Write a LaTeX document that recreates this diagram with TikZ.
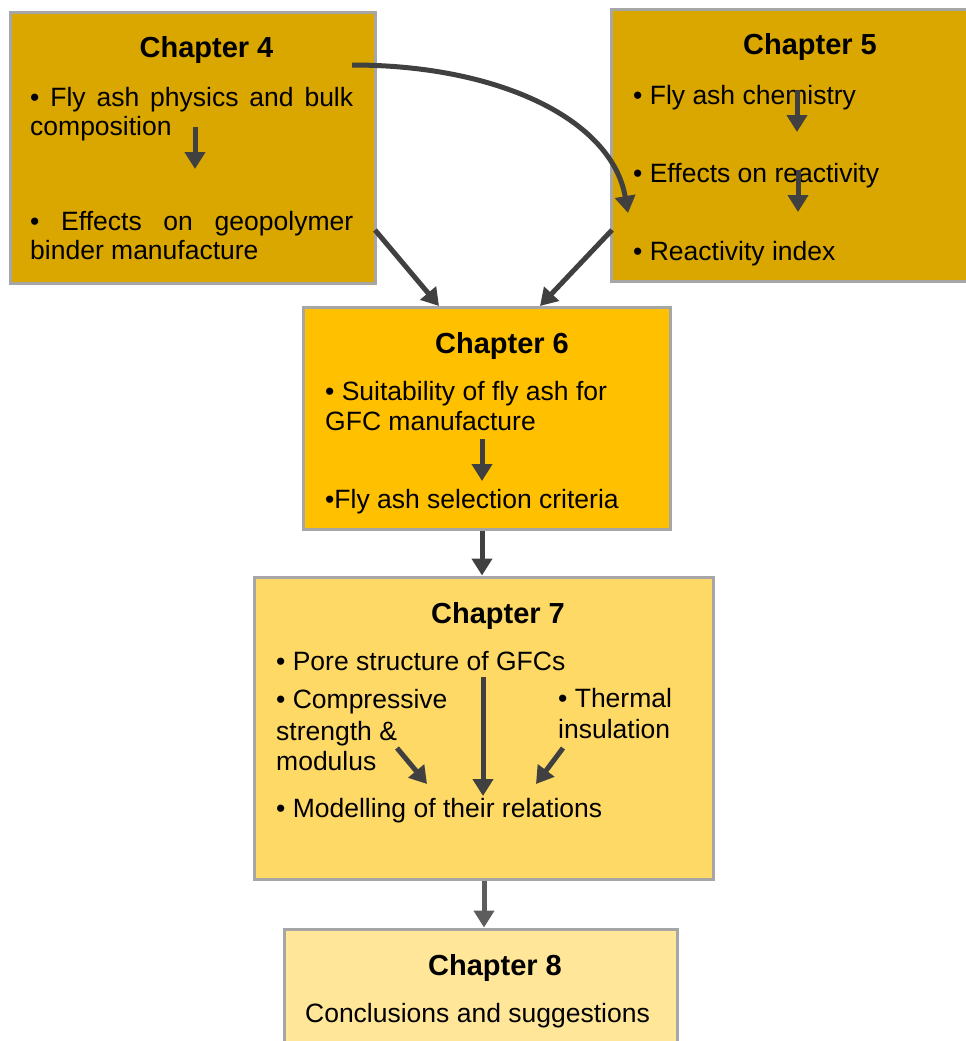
\documentclass[tikz,border=0pt]{standalone}
\usepackage{fontspec}
\setmainfont{Liberation Sans}
\usetikzlibrary{arrows.meta}
\definecolor{goldA}{RGB}{218,166,0}
\definecolor{goldB}{RGB}{255,192,0}
\definecolor{goldC}{RGB}{255,217,102}
\definecolor{goldD}{RGB}{255,230,153}
\definecolor{frame}{RGB}{166,166,166}
\definecolor{arr}{RGB}{64,64,64}
\tikzset{
  box/.style={draw=frame, line width=3pt, rectangle, inner sep=0pt},
  head/.style={font=\fontsize{29}{33}\selectfont\bfseries, inner sep=0pt, anchor=base},
  txt/.style={font=\fontsize{26.5}{30}\selectfont, inner sep=0pt, anchor=base west},
  ctxt/.style={font=\fontsize{26.5}{30}\selectfont, inner sep=0pt, anchor=base},
  conn/.style={draw=arr, line width=5pt, -{Triangle[width=20pt,length=17pt]}},
}
\begin{document}
\begin{tikzpicture}[x=1pt,y=-1pt]
\useasboundingbox (0,0) rectangle (966,1041);
\clip (0,0) rectangle (966,1041);
% boxes
\node[box, fill=goldA, minimum width=365pt, minimum height=270pt] (ch4) at (192.5,148) {};
\node[box, fill=goldA, minimum width=380pt, minimum height=271pt] (ch5) at (801,145.5) {};
\node[box, fill=goldB, minimum width=367pt, minimum height=222pt] (ch6) at (486.5,418) {};
\node[box, fill=goldC, minimum width=459pt, minimum height=302pt] (ch7) at (483.5,728) {};
\node[box, fill=goldD, minimum width=393pt, minimum height=160pt] (ch8) at (480.5,1009) {};
% Chapter 4 text
\node[head] (h4) at (206.5,58) {Chapter 4};
\node[txt] (t4a) at (30,106) {\makebox[323pt][s]{• Fly ash physics and bulk}};
\node[txt] (t4b) at (30,135) {composition};
\node[txt] (t4c) at (30,230) {\makebox[323pt][s]{• Effects on geopolymer}};
\node[txt] (t4d) at (30,259) {binder manufacture};
% Chapter 5 text
\node[head] (h5) at (810,55) {Chapter 5};
\node[txt] (t5a) at (633,104) {• Fly ash chemistry};
\node[txt] (t5b) at (633,182) {• Effects on reactivity};
\node[txt] (t5c) at (633,260) {• Reactivity index};
% Chapter 6 text
\node[head] (h6) at (502,353) {Chapter 6};
\node[txt] (t6a) at (325,400) {• Suitability of fly ash for};
\node[txt] (t6b) at (325,430) {GFC manufacture};
\node[txt] (t6c) at (325,508) {•Fly ash selection criteria};
% Chapter 7 text
\node[head] (h7) at (498,623) {Chapter 7};
\node[txt] (t7a) at (276,670) {• Pore structure of GFCs};
\node[txt] (t7b) at (276,708) {• Compressive};
\node[txt] (t7c) at (276,740) {strength \&};
\node[txt] (t7d) at (276,770) {modulus};
\node[txt] (t7e) at (558,707) {• Thermal};
\node[txt] (t7f) at (558,738) {insulation};
\node[txt] (t7g) at (276,817) {• Modelling of their relations};
% Chapter 8 text
\node[head] (h8) at (495,975) {Chapter 8};
\node[ctxt] (t8a) at (477.5,1022) {Conclusions and suggestions};
% connector end points
\coordinate (c4s) at (352,65);
\coordinate (c5e) at (628,213);
\coordinate (a1s) at (375,230);
\coordinate (a1e) at (439,306);
\coordinate (a2s) at (612,230);
\coordinate (a2e) at (540,306);
\coordinate (i4s) at (195,127);
\coordinate (i4e) at (195,169);
\coordinate (i5s) at (797,90);
\coordinate (i5e) at (797,132);
\coordinate (i5t) at (798,170);
\coordinate (i5u) at (798,212);
\coordinate (i6s) at (482,439);
\coordinate (i6e) at (482,481);
\coordinate (i7s) at (483,677);
\coordinate (i7e) at (483,796);
\coordinate (l7s) at (397,748);
\coordinate (l7e) at (427,784);
\coordinate (r7s) at (563,748);
\coordinate (r7e) at (536,784);
\coordinate (o78) at (484,900);
% connectors
\draw[conn] (c4s) .. controls (500,65) and (612,120) .. (c5e);
\draw[conn] (a1s) -- (a1e);
\draw[conn] (a2s) -- (a2e);
\draw[conn] (i4s) -- (i4e);
\draw[conn] (i5s) -- (i5e);
\draw[conn] (i5t) -- (i5u);
\draw[conn] (i6s) -- (i6e);
\draw[conn] (ch6.south -| i6s) -- (ch7.north -| i6s);
\draw[conn] (i7s) -- (i7e);
\draw[conn] (l7s) -- (l7e);
\draw[conn] (r7s) -- (r7e);
\draw[conn, draw=arr!85!white] (ch7.south -| o78) -- (ch8.north -| o78);
\end{tikzpicture}
\end{document}
